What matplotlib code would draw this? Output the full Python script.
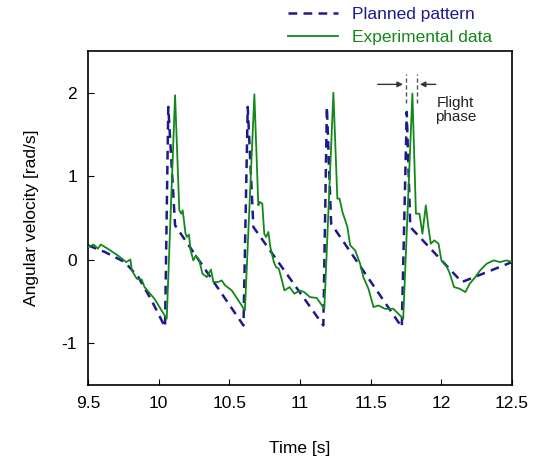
import matplotlib
matplotlib.use("Agg")
import matplotlib.pyplot as plt

# Planned pattern (piecewise)
planned_t = [9.5, 9.62, 9.76, 9.856, 9.95, 10.045, 10.068, 10.116, 10.6, 10.63, 10.67,
             11.165, 11.19, 11.22, 11.72, 11.755, 11.78, 12.145, 12.5]
planned_w = [0.17, 0.09, -0.03, -0.21, -0.49, -0.81, 1.83, 0.41, -0.79, 1.83, 0.39,
             -0.79, 1.83, 0.43, -0.81, 1.77, 0.39, -0.27, -0.03]

# Experimental data
exp_t = [9.5, 9.54, 9.57, 9.59, 9.64, 9.71, 9.77, 9.8, 9.81, 9.845, 9.88, 9.90, 9.97, 10.057,
         10.116, 10.146, 10.16, 10.17, 10.19, 10.2, 10.214, 10.226, 10.245, 10.263, 10.287,
         10.31, 10.34, 10.37, 10.387, 10.42, 10.446, 10.47, 10.517, 10.564, 10.61,
         10.677, 10.705, 10.716, 10.733, 10.747, 10.76, 10.776, 10.79, 10.815, 10.83, 10.85,
         10.866, 10.89, 10.926, 10.96, 10.997, 11.03, 11.07, 11.118, 11.172,
         11.236, 11.264, 11.28, 11.3, 11.32, 11.335, 11.355, 11.39, 11.425, 11.448, 11.484,
         11.52, 11.555, 11.60, 11.66, 11.696, 11.73,
         11.795, 11.82, 11.845, 11.866, 11.89, 11.908, 11.925, 11.95, 11.98, 12.0, 12.04,
         12.06, 12.09, 12.13, 12.17, 12.2, 12.24, 12.274, 12.32, 12.37, 12.415, 12.46, 12.5]
exp_w = [0.15, 0.18, 0.13, 0.18, 0.13, 0.05, -0.03, 0.0, -0.13, -0.23, -0.24, -0.33, -0.47, -0.71,
         1.97, 0.59, 0.55, 0.59, 0.31, 0.27, 0.30, 0.11, -0.01, 0.05, -0.01,
         -0.17, -0.21, -0.12, -0.27, -0.27, -0.25, -0.31, -0.37, -0.49, -0.61,
         1.98, 0.65, 0.69, 0.67, 0.31, 0.27, 0.33, 0.15, -0.03, -0.09, -0.11,
         -0.21, -0.37, -0.33, -0.41, -0.37, -0.39, -0.45, -0.46, -0.59,
         2.0, 0.73, 0.73, 0.57, 0.47, 0.39, 0.17, 0.11, -0.05, -0.21, -0.35,
         -0.57, -0.55, -0.59, -0.59, -0.65, -0.71,
         1.99, 0.55, 0.55, 0.31, 0.65, 0.39, 0.19, 0.23, 0.19, -0.01, -0.09,
         -0.17, -0.33, -0.35, -0.39, -0.29, -0.21, -0.13, -0.05, -0.01, -0.03, -0.01, -0.03]

xticks = [9.5, 10, 10.5, 11, 11.5, 12, 12.5]
xticklabels = ["9.5", "10", "10.5", "11", "11.5", "12", "12.5"]
yticks = [-1, 0, 1, 2]
yticklabels = ["-1", "0", "1", "2"]

navy = "#1f1a8c"
green = "#13881a"

plt.rcParams['font.family'] = ['Liberation Sans', 'DejaVu Sans']

fig = plt.figure(figsize=(5.5, 4.7), dpi=100)
ax = fig.add_axes([0.16, 0.1815, 0.771, 0.71])

ax.plot(planned_t, planned_w, color=navy, lw=1.8, dashes=(3.5, 2.5), label="Planned pattern", zorder=2)
ax.plot(exp_t, exp_w, color=green, lw=1.3, label="Experimental data", zorder=3)

ax.set_xlim(9.5, 12.5)
ax.set_ylim(-1.5, 2.5)
ax.set_xticks(xticks)
ax.set_xticklabels(xticklabels)
ax.set_yticks(yticks)
ax.set_yticklabels(yticklabels)
ax.tick_params(direction='in', length=4, labelsize=12.5, top=False, right=False, pad=8)
for s in ax.spines.values():
    s.set_linewidth(1.2)

ax.set_xlabel("Time [s]", fontsize=12.5, labelpad=22)
ax.set_ylabel("Angular velocity [rad/s]", fontsize=12.5, labelpad=16)

# Flight phase annotation
for xv in (11.748, 11.828):
    ax.plot([xv, xv], [1.88, 2.22], color="#555555", lw=1.0, ls=(0, (3, 2)), clip_on=False, zorder=4)
ax.annotate("", xy=(11.748, 2.10), xytext=(11.53, 2.10),
            arrowprops=dict(arrowstyle="-|>", color="#333333", lw=1.0, mutation_scale=8))
ax.annotate("", xy=(11.828, 2.10), xytext=(11.98, 2.10),
            arrowprops=dict(arrowstyle="-|>", color="#333333", lw=1.0, mutation_scale=8))
ax.text(12.1, 1.79, "Flight\nphase", fontsize=11, ha="center", va="center",
        color="#222222", linespacing=1.0)

handles, labels = ax.get_legend_handles_labels()
leg = fig.legend(handles, labels, loc="upper left", bbox_to_anchor=(288 / 550, 1 - 7 / 470),
                 frameon=False, fontsize=12.5, handlelength=2.9, handletextpad=0.8,
                 labelspacing=0.45, borderaxespad=0, borderpad=0)
for txt, c in zip(leg.get_texts(), [navy, green]):
    txt.set_color(c)

fig.savefig("out.png", dpi=100)
